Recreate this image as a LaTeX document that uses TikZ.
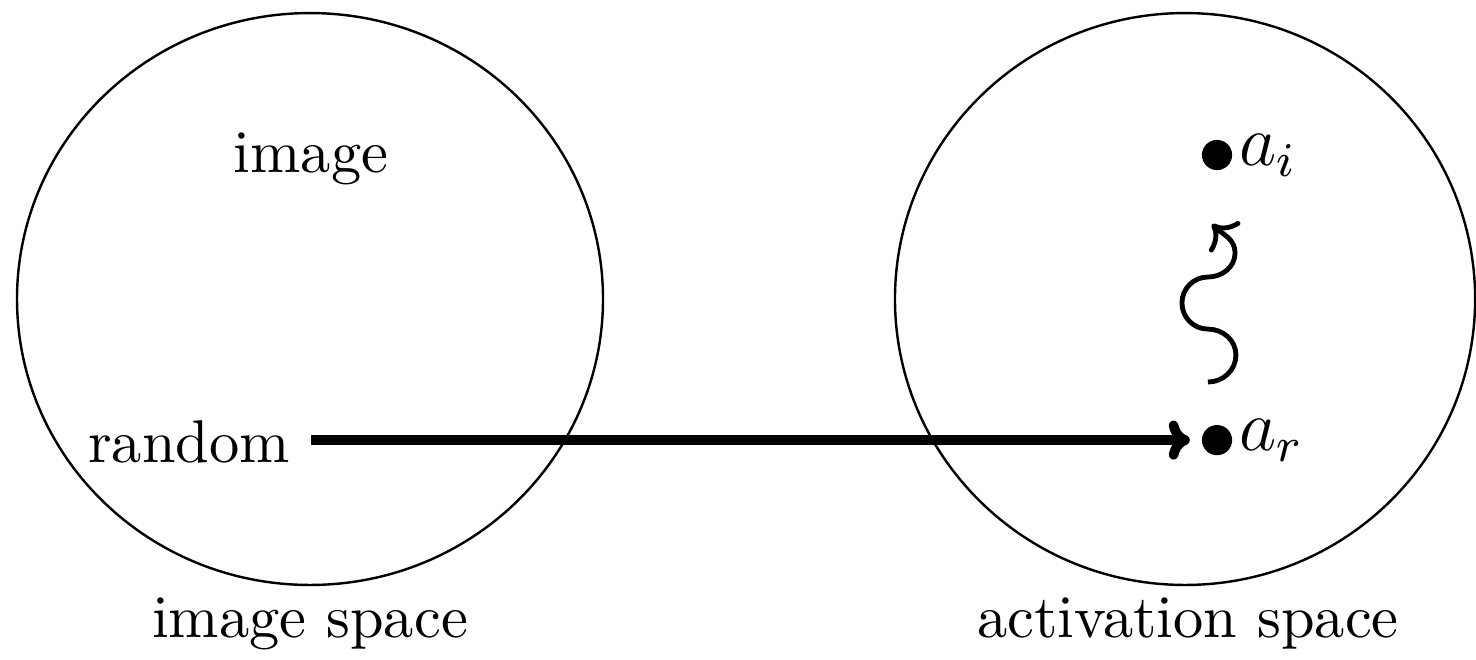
\documentclass[tikz,border=0pt]{standalone}
\usetikzlibrary{shapes.geometric, arrows.meta, positioning}
\usepackage{amsmath}

\begin{document}
\begin{tikzpicture}[
    space/.style={ellipse, draw, inner sep=0pt},
    dot/.style={circle, fill, minimum size=5pt, inner sep=0pt, outer sep=0pt},
    lbl/.style={inner sep=0pt, font=\large},
    map/.style={ultra thick, -{To[length=3.5pt, width=6.5pt]}, shorten >=2pt},
    walk/.style={thick, ->}
]
\useasboundingbox (0,0) rectangle (8.589,3.835);

% Image space (left) and activation space (right)
\node[space, minimum width=3.41cm, minimum height=3.328cm] (Img) at (1.804, 2.095) {};
\node[space, minimum width=3.376cm, minimum height=3.328cm] (Act) at (6.896, 2.095) {};

% Names of the two spaces
\node[anchor=base] (ImgName) at (1.804, 0.128) {image space};
\node[anchor=base] (ActName) at (6.913, 0.128) {activation space};

% Inputs in image space
\node[anchor=base] (Image) at (1.810, 2.834) {image};
\node[anchor=base] (Random) at (1.100, 1.141) {random};

% Activations
\node[dot] (Ai) at (7.082, 2.933) {};
\node[dot] (Ar) at (7.082, 1.274) {};
\node[lbl, right=1pt of Ai] (AiLbl) {$a_i$};
\node[lbl, right=1pt of Ar] (ArLbl) {$a_r$};

% Random input mapped to its activation
\draw[map] (Random.east |- Ar) -- (Ar);

% Wiggly path from a_r towards a_i
\coordinate (Wig) at (7.029, 1.612);
\draw[walk] (Wig) to[out=0, in=-90] (7.192, 1.769)
    to[out=90, in=0] (7.029, 1.920)
    to[out=180, in=-90] (6.878, 2.072)
    to[out=90, in=180] (7.029, 2.223)
    to[out=0, in=-90] (7.187, 2.363)
    to[out=90, in=-45] (7.053, 2.531);

\end{tikzpicture}
\end{document}
